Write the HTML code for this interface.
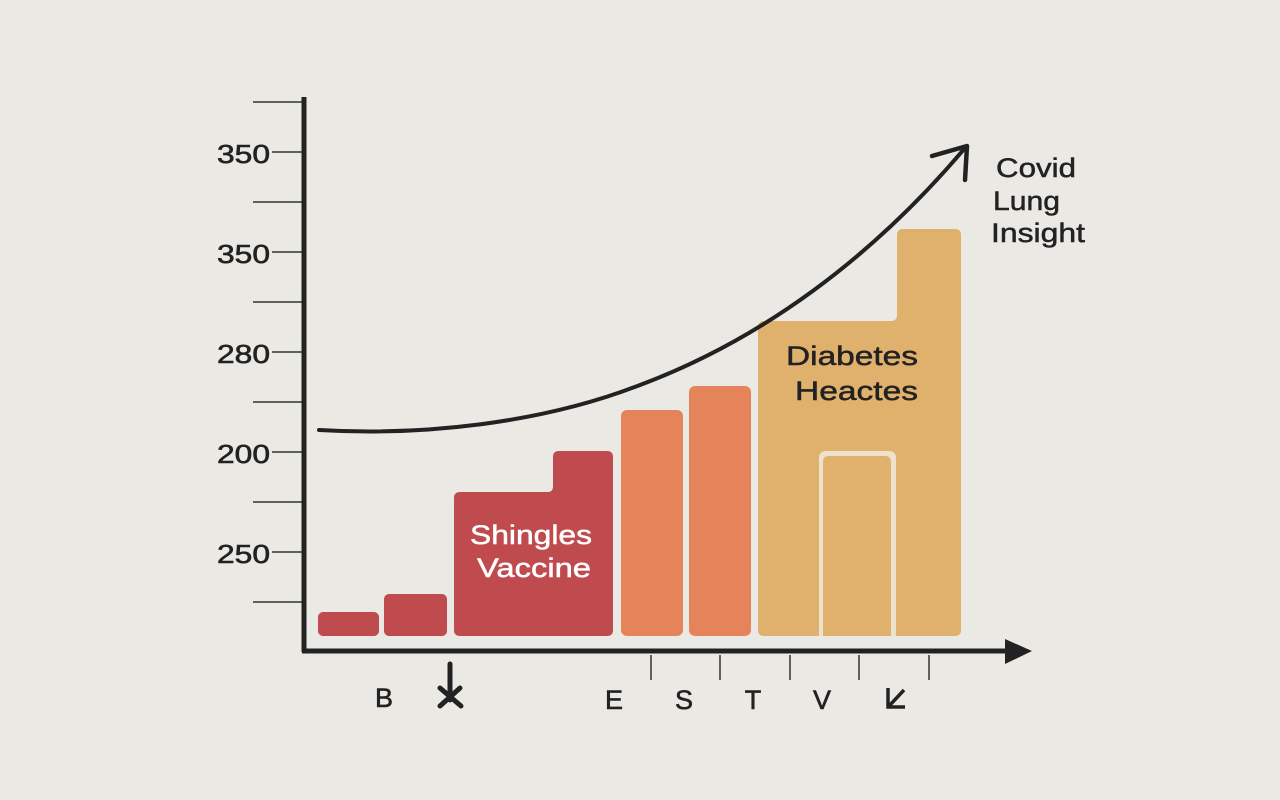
<!DOCTYPE html>
<html><head><style>
html,body{margin:0;padding:0;background:#ebe9e4;}
svg{display:block}
text{font-family:"Liberation Sans",sans-serif;}
</style></head><body>
<svg width="1280" height="800" viewBox="0 0 1280 800">
<rect width="1280" height="800" fill="#ebe9e4"/>
<g stroke="#333" stroke-width="1.5">
<line x1="253" y1="102" x2="302" y2="102"/><line x1="272" y1="152" x2="302" y2="152"/>
<line x1="253" y1="202" x2="302" y2="202"/><line x1="272" y1="252" x2="302" y2="252"/>
<line x1="253" y1="302" x2="302" y2="302"/><line x1="272" y1="352" x2="302" y2="352"/>
<line x1="253" y1="402" x2="302" y2="402"/><line x1="272" y1="452" x2="302" y2="452"/>
<line x1="253" y1="502" x2="302" y2="502"/><line x1="272" y1="552" x2="302" y2="552"/>
<line x1="253" y1="602" x2="302" y2="602"/>
<line x1="651" y1="655" x2="651" y2="680"/><line x1="720" y1="655" x2="720" y2="680"/>
<line x1="790" y1="655" x2="790" y2="680"/><line x1="859" y1="655" x2="859" y2="680"/>
<line x1="929" y1="655" x2="929" y2="680"/>
</g>
<g font-size="26" fill="#222" stroke="#222" stroke-width="0.6" lengthAdjust="spacingAndGlyphs">
<text x="217" y="163" textLength="53" lengthAdjust="spacingAndGlyphs">350</text>
<text x="217" y="263" textLength="53" lengthAdjust="spacingAndGlyphs">350</text>
<text x="217" y="363" textLength="53" lengthAdjust="spacingAndGlyphs">280</text>
<text x="217" y="463" textLength="53" lengthAdjust="spacingAndGlyphs">200</text>
<text x="217" y="563" textLength="53" lengthAdjust="spacingAndGlyphs">250</text>
</g>
<g fill="#c04b4f">
<rect x="318" y="612" width="61" height="24" rx="5"/>
<rect x="384" y="594" width="63" height="42" rx="5"/>
<path d="M460 492 H548 Q553 492 553 486 V457 Q553 451 559 451 H607 Q613 451 613 457 V630 Q613 636 607 636 H460 Q454 636 454 630 V498 Q454 492 460 492Z"/>
</g>
<rect x="621" y="410" width="62" height="226" rx="6" fill="#e5845a"/>
<rect x="689" y="386" width="62" height="250" rx="6" fill="#e5845a"/>
<path d="M764 321 H891 Q897 321 897 315 V235 Q897 229 903 229 H955 Q961 229 961 235 V630 Q961 636 955 636 H764 Q758 636 758 630 V327 Q758 321 764 321Z" fill="#e0b06d"/>
<path d="M819 636 V458 Q819 451 826 451 H889 Q896 451 896 458 V636 H891 V462 Q891 456 885 456 H829 Q823 456 823 462 V636Z" fill="#ede2ce"/>
<line x1="304" y1="97" x2="304" y2="652" stroke="#222" stroke-width="5"/>
<line x1="302" y1="651" x2="1010" y2="651" stroke="#222" stroke-width="5"/>
<path d="M1005 639 L1032 651 L1005 664Z" fill="#222"/>
<path d="M319 430 C420 436 540 424 640 385 C760 340 870 260 965 148" fill="none" stroke="#222" stroke-width="4" stroke-linecap="round"/>
<path d="M932 156 L967 146 L965 180" fill="none" stroke="#222" stroke-width="4.5" stroke-linecap="round" stroke-linejoin="round"/>
<g font-size="27" fill="#222" stroke="#222" stroke-width="0.5">
<text x="996" y="177" textLength="80" lengthAdjust="spacingAndGlyphs">Covid</text>
<text x="993" y="210" textLength="67" lengthAdjust="spacingAndGlyphs">Lung</text>
<text x="991" y="242" textLength="94" lengthAdjust="spacingAndGlyphs">Insight</text>
<text x="786" y="365" textLength="132" lengthAdjust="spacingAndGlyphs">Diabetes</text>
<text x="795" y="400" textLength="123" lengthAdjust="spacingAndGlyphs">Heactes</text>
</g>
<g font-size="27" fill="#fff" stroke="#fff" stroke-width="0.5">
<text x="470" y="544" textLength="122" lengthAdjust="spacingAndGlyphs">Shingles</text>
<text x="477" y="577" textLength="114" lengthAdjust="spacingAndGlyphs">Vaccine</text>
</g>
<g font-size="27" fill="#222" stroke="#222" stroke-width="0.6" text-anchor="middle">
<text x="384" y="707">B</text><text x="614" y="709">E</text><text x="684" y="709">S</text>
<text x="753" y="709">T</text><text x="822" y="709">V</text>
</g>
<line x1="450" y1="664" x2="450" y2="700" stroke="#222" stroke-width="5" stroke-linecap="round"/>
<path d="M440 688 L461 706 M460 688 L440 706" stroke="#222" stroke-width="5" stroke-linecap="round"/>
<path d="M888 688 V707 H905 M889 706 L904 690" fill="none" stroke="#222" stroke-width="3.5"/>
</svg>
</body></html>
